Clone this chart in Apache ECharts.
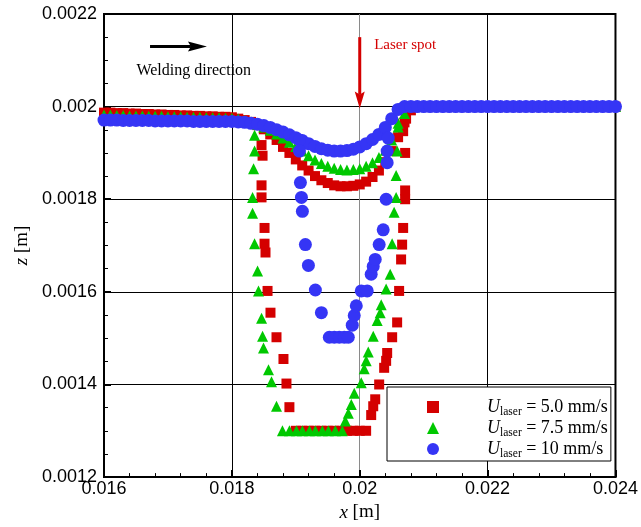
<!DOCTYPE html>
<html>
<head>
<meta charset="utf-8">
<script src="https://cdn.jsdelivr.net/npm/echarts@6/dist/echarts.min.js"></script>
<style>
  html, body { margin: 0; padding: 0; background: #fff; }
  #main { width: 641px; height: 527px; }
</style>
</head>
<body>
<div id="main"></div>
<script>
// laser speeds (mm/s) used in the legend
const speeds = ['5.0', '7.5', '10']

// free surface, x positions shared by the three runs
const surfX = [
  0.016, 0.0161, 0.0162, 0.0163, 0.0164, 0.0165, 0.0166, 0.0167, 0.0168, 0.0169,
  0.017, 0.0171, 0.0172, 0.0173, 0.0174, 0.0175, 0.0176, 0.0177, 0.0178, 0.0179,
  0.018, 0.0181, 0.0182, 0.0183, 0.0184, 0.0185, 0.0186, 0.0187, 0.0188, 0.0189,
  0.019, 0.0191, 0.0192, 0.0193, 0.0194, 0.0195, 0.0196, 0.0197, 0.0198, 0.0199,
  0.02, 0.0201, 0.0202, 0.0203, 0.0204, 0.0205, 0.0206, 0.0207, 0.0208, 0.0209,
  0.021, 0.0211, 0.0212, 0.0213, 0.0214, 0.0215, 0.0216, 0.0217, 0.0218, 0.0219,
  0.022, 0.0221, 0.0222, 0.0223, 0.0224, 0.0225, 0.0226, 0.0227, 0.0228, 0.0229,
  0.023, 0.0231, 0.0232, 0.0233, 0.0234, 0.0235, 0.0236, 0.0237, 0.0238, 0.0239,
  0.024
]

const redSurfZ = [
  0.001987, 0.001987, 0.001986, 0.001986, 0.001985, 0.001985, 0.001984, 0.001984, 0.001983, 0.001983,
  0.001982, 0.001982, 0.001981, 0.001981, 0.00198, 0.00198, 0.001979, 0.001979, 0.001978, 0.001978,
  0.001977, 0.001974, 0.001971, 0.001967, 0.00196, 0.001951, 0.00194, 0.001928, 0.001913, 0.0019,
  0.001886, 0.001873, 0.001862, 0.00185, 0.001841, 0.001835, 0.00183, 0.001828, 0.001828, 0.001829,
  0.001832, 0.001838, 0.001848, 0.001862, 0.00188, 0.001904, 0.001934, 0.001966, 0.001992, 0.002,
  0.002, 0.002, 0.002, 0.002, 0.002, 0.002, 0.002, 0.002, 0.002, 0.002,
  0.002, 0.002, 0.002, 0.002, 0.002, 0.002, 0.002, 0.002, 0.002, 0.002,
  0.002, 0.002, 0.002, 0.002, 0.002, 0.002, 0.002, 0.002, 0.002, 0.002,
  0.002
]

const greenSurfZ = [
  0.001982, 0.001982, 0.001981, 0.001981, 0.00198, 0.00198, 0.00198, 0.001979, 0.001979, 0.001979,
  0.001978, 0.001978, 0.001978, 0.001977, 0.001977, 0.001977, 0.001976, 0.001976, 0.001976, 0.001975,
  0.001975, 0.001973, 0.00197, 0.001967, 0.001962, 0.001956, 0.001949, 0.001941, 0.001932, 0.001923,
  0.001914, 0.001904, 0.001894, 0.001885, 0.001877, 0.001871, 0.001867, 0.001864, 0.001863, 0.001864,
  0.001866, 0.001871, 0.001879, 0.00189, 0.001906, 0.001928, 0.001956, 0.001985, 0.002, 0.002,
  0.002, 0.002, 0.002, 0.002, 0.002, 0.002, 0.002, 0.002, 0.002, 0.002,
  0.002, 0.002, 0.002, 0.002, 0.002, 0.002, 0.002, 0.002, 0.002, 0.002,
  0.002, 0.002, 0.002, 0.002, 0.002, 0.002, 0.002, 0.002, 0.002, 0.002,
  0.002
]

const blueSurfZ = [
  0.001971, 0.001971, 0.001971, 0.00197, 0.00197, 0.00197, 0.00197, 0.00197, 0.001969, 0.001969,
  0.001969, 0.001969, 0.001969, 0.001969, 0.001968, 0.001968, 0.001968, 0.001968, 0.001968, 0.001968,
  0.001968, 0.001967, 0.001966, 0.001964, 0.001962, 0.001959, 0.001955, 0.00195, 0.001945, 0.001939,
  0.001933, 0.001927, 0.00192, 0.001914, 0.001909, 0.001906, 0.001904, 0.001904, 0.001905, 0.001908,
  0.001913, 0.00192, 0.001929, 0.00194, 0.001955, 0.001974, 0.001994, 0.002, 0.002, 0.002,
  0.002, 0.002, 0.002, 0.002, 0.002, 0.002, 0.002, 0.002, 0.002, 0.002,
  0.002, 0.002, 0.002, 0.002, 0.002, 0.002, 0.002, 0.002, 0.002, 0.002,
  0.002, 0.002, 0.002, 0.002, 0.002, 0.002, 0.002, 0.002, 0.002, 0.002,
  0.002
]

// melt pool boundary points
const redPoolX = [
  0.018464, 0.01848, 0.018464, 0.018464, 0.018511, 0.018511, 0.018526, 0.018558, 0.018604, 0.018698,
  0.018807, 0.018854, 0.0189,
  0.019, 0.0191, 0.0192, 0.0193, 0.0194, 0.0195, 0.0196, 0.0197, 0.0198, 0.0199, 0.02, 0.0201,
  0.020179, 0.020211, 0.020242, 0.020304, 0.020382, 0.020413, 0.020429, 0.020507, 0.020585, 0.020616,
  0.020647, 0.020663, 0.020679, 0.02071, 0.02071, 0.02071, 0.020679, 0.020725
]
const redPoolZ = [
  0.001917, 0.001894, 0.00183, 0.001804, 0.001738, 0.001704, 0.001685, 0.001602, 0.001555, 0.001502,
  0.001455, 0.001402, 0.001351,
  0.0013, 0.0013, 0.0013, 0.0013, 0.0013, 0.0013, 0.0013, 0.0013, 0.0013, 0.0013, 0.0013, 0.0013,
  0.001334, 0.001353, 0.001368, 0.0014, 0.001436, 0.001451, 0.001468, 0.001502, 0.001534, 0.001602,
  0.00167, 0.001702, 0.001738, 0.0018, 0.001819, 0.0019, 0.001947, 0.001974
]

const greenPoolX = [
  0.018355, 0.018355, 0.018339, 0.018324, 0.018324, 0.018355, 0.018402, 0.018417, 0.018464, 0.01848,
  0.018495, 0.018573, 0.01862, 0.018698,
  0.018791, 0.0189, 0.019009, 0.019103, 0.019212, 0.019306, 0.019415, 0.019509, 0.019618, 0.019727,
  0.019774, 0.019821, 0.019868, 0.019914, 0.020024, 0.02007, 0.020101, 0.020133, 0.020211, 0.020273,
  0.02032, 0.020336, 0.020413, 0.020476, 0.020507, 0.020538, 0.020569, 0.020569, 0.020585, 0.0206
]
const greenPoolZ = [
  0.001938, 0.001904, 0.001866, 0.001804, 0.00177, 0.001704, 0.001645, 0.001602, 0.001543, 0.001504,
  0.001479, 0.001432, 0.001406, 0.001353,
  0.0013, 0.0013, 0.0013, 0.0013, 0.0013, 0.0013, 0.0013, 0.0013, 0.0013, 0.0013,
  0.001321, 0.001338, 0.001357, 0.001381, 0.001404, 0.001434, 0.001451, 0.00147, 0.001504, 0.001538,
  0.001555, 0.001572, 0.001606, 0.001638, 0.001704, 0.001772, 0.001804, 0.001851, 0.001904, 0.001964
]

const bluePoolX = [
  0.019057, 0.019057, 0.019072, 0.019088, 0.019103, 0.01915, 0.019197, 0.019306, 0.0194,
  0.019524, 0.019602, 0.01968, 0.019758, 0.019821,
  0.019883, 0.019914, 0.019946, 0.020024, 0.020117, 0.020179, 0.020211, 0.020242, 0.020304, 0.020367,
  0.020413, 0.020429, 0.020429, 0.020445
]
const bluePoolZ = [
  0.001928, 0.001904, 0.001836, 0.001804, 0.001774, 0.001702, 0.001657, 0.001604, 0.001555,
  0.001502, 0.001502, 0.001502, 0.001502, 0.001502,
  0.001528, 0.001549, 0.00157, 0.001602, 0.001602, 0.001638, 0.001655, 0.00167, 0.001702, 0.001734,
  0.0018, 0.001879, 0.001904, 0.001932
]

const SERIF = 'Liberation Serif'
const SANS = 'Liberation Sans'

const pairs = (xs, zs) => xs.map((x, i) => [x, zs[i]])

const runs = [
  { name: speeds[0], symbol: 'rect', size: 10, color: '#d40000', surf: redSurfZ, px: redPoolX, pz: redPoolZ },
  { name: speeds[1], symbol: 'triangle', size: 11, color: '#00c800', surf: greenSurfZ, px: greenPoolX, pz: greenPoolZ },
  { name: speeds[2], symbol: 'circle', size: 13, color: '#3535f5', surf: blueSurfZ, px: bluePoolX, pz: bluePoolZ }
]

const chart = echarts.init(document.getElementById('main'))

chart.setOption({
  animation: false,
  backgroundColor: '#fff',
  grid: {
    left: 104, right: 24, top: 14, bottom: 43,
    show: true, borderColor: '#000', borderWidth: 2, backgroundColor: 'transparent'
  },
  legend: {
    orient: 'vertical',
    left: 387,
    top: 387,
    itemWidth: 12,
    itemHeight: 12,
    itemGap: 0,
    padding: [10, 3, 1, 40],
    backgroundColor: '#fff',
    borderColor: '#000',
    borderWidth: 1,
    borderRadius: 0,
    data: speeds,
    formatter: name => '{u|U}{s|laser}{t| = ' + name + ' mm/s}',
    textStyle: {
      color: '#000',
      rich: {
        u: { fontFamily: SERIF, fontStyle: 'italic', fontSize: 18, lineHeight: 22, padding: [0, 0, 0, 43] },
        s: { fontFamily: SERIF, fontSize: 11.5, lineHeight: 22, verticalAlign: 'bottom', padding: [9, 0, 0, 0] },
        t: { fontFamily: SERIF, fontSize: 18, lineHeight: 22 }
      }
    }
  },
  xAxis: {
    type: 'value',
    min: 0.016,
    max: 0.024,
    interval: 0.002,
    name: '{i|x} [m]',
    nameLocation: 'middle',
    nameGap: 25,
    nameTextStyle: {
      color: '#000', fontFamily: SERIF, fontSize: 19,
      rich: { i: { fontFamily: SERIF, fontStyle: 'italic', fontSize: 19 } }
    },
    axisLine: { lineStyle: { color: '#000', width: 2 } },
    axisTick: { inside: true, length: 7, lineStyle: { color: '#000', width: 2 } },
    minorTick: { show: true, splitNumber: 5, length: 4, lineStyle: { color: '#000', width: 1 } },
    axisLabel: {
      color: '#000', fontFamily: SANS, fontSize: 18, margin: 3,
      formatter: v => String(+v.toFixed(4))
    },
    splitLine: {
      show: true, showMinLine: true, showMaxLine: true,
      lineStyle: { color: ['#000', '#000', '#8a8a8a', '#000', '#000'], width: 1 }
    }
  },
  yAxis: {
    type: 'value',
    min: 0.0012,
    max: 0.0022,
    interval: 0.0002,
    name: '{i|z} [m]',
    nameLocation: 'middle',
    nameGap: 72,
    nameTextStyle: {
      color: '#000', fontFamily: SERIF, fontSize: 19,
      rich: { i: { fontFamily: SERIF, fontStyle: 'italic', fontSize: 19 } }
    },
    axisLine: { lineStyle: { color: '#000', width: 2 } },
    axisTick: { inside: true, length: 7, lineStyle: { color: '#000', width: 2 } },
    minorTick: { show: true, splitNumber: 4, length: 4, lineStyle: { color: '#000', width: 1 } },
    axisLabel: {
      color: '#000', fontFamily: SANS, fontSize: 18, margin: 7,
      formatter: v => String(+v.toFixed(5))
    },
    splitLine: { show: true, lineStyle: { color: '#000', width: 1 } }
  },
  series: runs.map(r => ({
    name: r.name,
    type: 'scatter',
    symbol: r.symbol,
    symbolSize: r.size,
    clip: false,
    itemStyle: { color: r.color, opacity: 1 },
    data: pairs(surfX, r.surf).concat(pairs(r.px, r.pz))
  }))
})

// annotations: welding direction arrow and laser spot arrow
const toPx = p => chart.convertToPixel({ gridIndex: 0 }, p)
const wA = toPx([0.01672, 0.00213])
const wB = toPx([0.01761, 0.00213])
const lA = toPx([0.02, 0.00215])
const lB = toPx([0.02, 0.001996])
const wText = toPx([0.017404, 0.002077])
const lText = toPx([0.020226, 0.002132])

chart.setOption({
  graphic: [
    { type: 'line', shape: { x1: wA[0], y1: wA[1], x2: wB[0] - 16, y2: wB[1] }, style: { stroke: '#000', lineWidth: 3 }, z: 10 },
    { type: 'polygon', shape: { points: [[wB[0], wB[1]], [wB[0] - 19, wB[1] - 5], [wB[0] - 16, wB[1]], [wB[0] - 19, wB[1] + 5]] }, style: { fill: '#000' }, z: 10 },
    { type: 'line', shape: { x1: lA[0], y1: lA[1], x2: lB[0], y2: lB[1] - 14 }, style: { stroke: '#d40000', lineWidth: 3 }, z: 10 },
    { type: 'polygon', shape: { points: [[lB[0], lB[1]], [lB[0] - 5, lB[1] - 17], [lB[0], lB[1] - 14], [lB[0] + 5, lB[1] - 17]] }, style: { fill: '#d40000' }, z: 10 },
    { type: 'text', x: wText[0], y: wText[1], z: 10, style: { text: 'Welding direction', fill: '#000', font: '16px "Liberation Serif"', align: 'center', verticalAlign: 'middle', textAlign: 'center', textVerticalAlign: 'middle' } },
    { type: 'text', x: lText[0], y: lText[1], z: 10, style: { text: 'Laser spot', fill: '#d40000', font: '15px "Liberation Serif"', align: 'left', verticalAlign: 'middle', textAlign: 'left', textVerticalAlign: 'middle' } }
  ]
})
</script>
</body>
</html>
